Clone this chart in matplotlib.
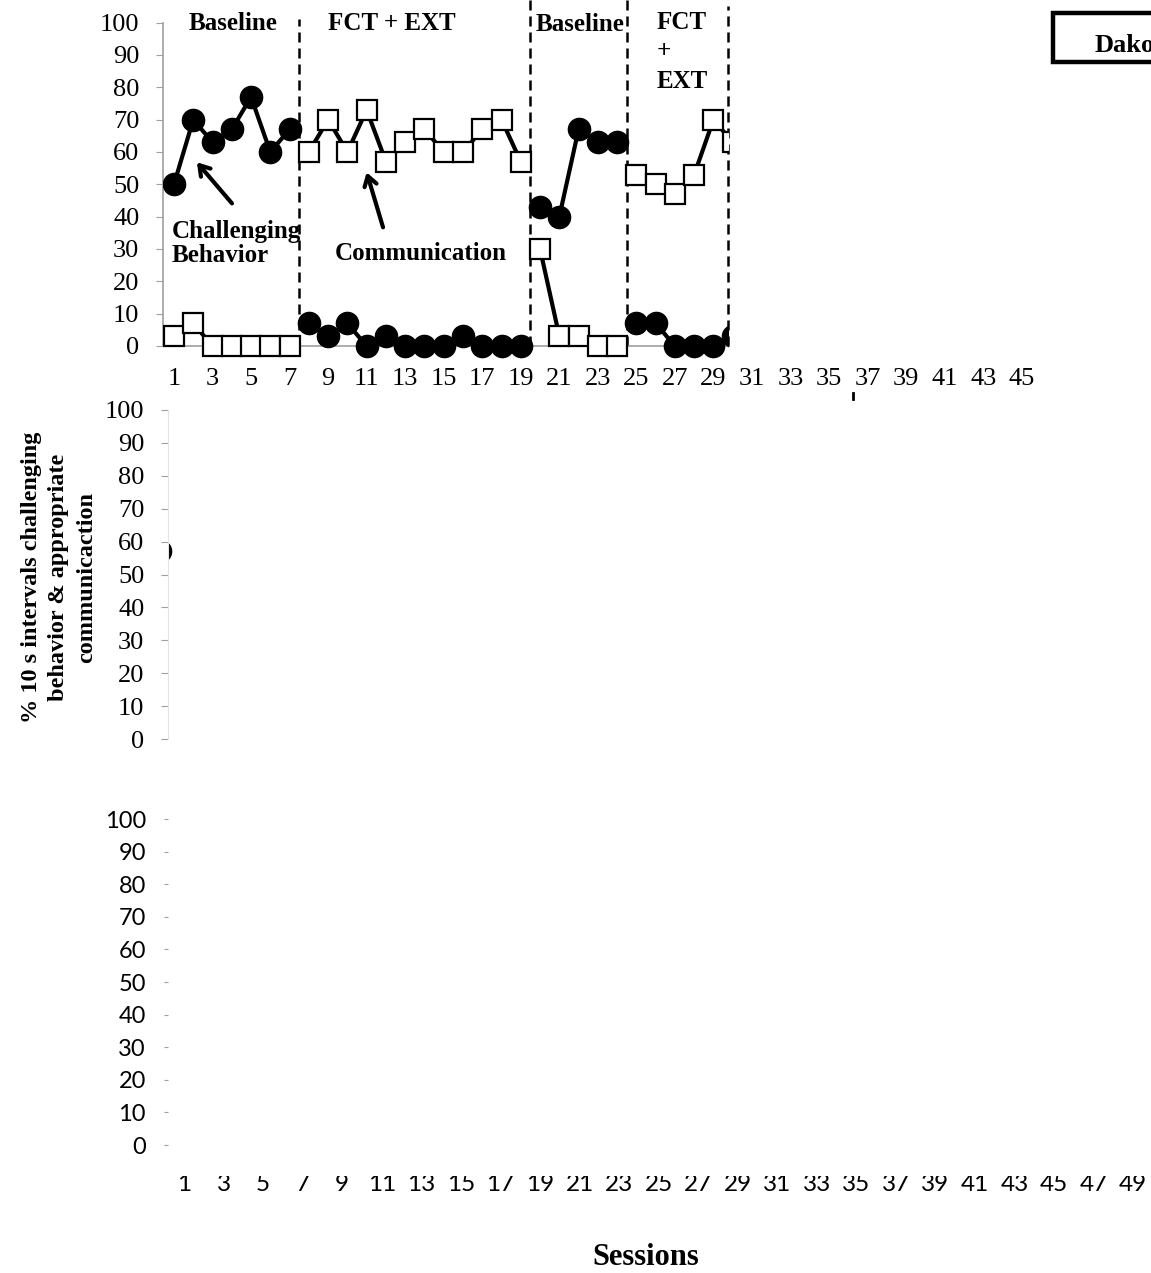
import numpy as np
import matplotlib
matplotlib.use("Agg")
import matplotlib.pyplot as plt
from matplotlib.patches import Rectangle
from matplotlib.lines import Line2D

W, H = 1151, 1273
SERIF = "Liberation Serif"

# data: sessions, phase of each session, and the two measures
sessions = np.arange(1, 31)
phase = [0] * 7 + [1] * 12 + [2] * 5 + [3] * 6
challenging = [50, 70, 63, 67, 77, 60, 67,
               7, 3, 7, 0, 3, 0, 0, 0, 3, 0, 0, 0,
               43, 40, 67, 63, 63,
               7, 7, 0, 0, 0, 3]
communication = [3, 7, 0, 0, 0, 0, 0,
                 60, 70, 60, 73, 57, 63, 67, 60, 60, 67, 70, 57,
                 30, 3, 3, 0, 0,
                 53, 50, 47, 53, 70, 63]
phase_lines = [7.5, 19.5, 24.5, 29.75]
phase_names = ["Baseline", "FCT + EXT", "Baseline", "FCT\n+\nEXT"]
top_xticks = list(range(1, 46, 2))
bottom_xticks = list(range(1, 50, 2))
yticks = list(range(0, 101, 10))

# second panel: only a sliver of one point is left at the axis edge
mid_x = [0.08]
mid_y = [57]


def px_axes(fig, left, top, right, bottom):
    return fig.add_axes([left / W, 1 - bottom / H, (right - left) / W, (bottom - top) / H])


fig = plt.figure(figsize=(W / 100, H / 100), dpi=100)

# ---------------- top panel ----------------
ax = px_axes(fig, 163, 0, 1041, 346)
x_left, x_clip = 0.43, 29.75
ax.set_xlim(x_left, 46)
ax.set_ylim(0, 107)
for s in ["top", "right"]:
    ax.spines[s].set_visible(False)
ax.spines["left"].set_bounds(0, 100)
ax.spines["bottom"].set_bounds(x_left, x_clip)
ax.spines["left"].set_color("#a0a0a0")
ax.spines["bottom"].set_color("#a0a0a0")
ax.spines["left"].set_linewidth(1.2)
ax.spines["bottom"].set_linewidth(1.2)
ax.set_yticks(yticks)
ax.set_xticks(top_xticks)
ax.tick_params(axis="y", direction="out", length=5, color="#a0a0a0", pad=12,
               labelsize=19)
ax.tick_params(axis="x", length=0, pad=16, labelsize=19)
for lab in ax.get_xticklabels() + ax.get_yticklabels():
    lab.set_fontfamily(SERIF)

clip = Rectangle((x_left, -20), x_clip - x_left, 140, transform=ax.transData)

ph = np.array(phase)
cb = np.array(challenging)
cm = np.array(communication)
for p in np.unique(ph):
    m = ph == p
    l1, = ax.plot(sessions[m], cb[m], color="black", lw=3.0, marker="o", ms=16,
                  mfc="black", mec="black", zorder=3)
    l2, = ax.plot(sessions[m], cm[m], color="black", lw=3.0, marker="s", ms=14,
                  mfc="white", mec="black", mew=1.6, zorder=4)
    for ln in (l1, l2):
        ln.set_clip_path(clip)

tops = [101, 107, 107, 105]
for xv, t in zip(phase_lines, tops):
    ax.plot([xv, xv], [0, t], color="black", lw=1.8, ls=(0, (4, 2.4)),
            clip_on=False, zorder=2)

bold = dict(fontfamily=SERIF, fontweight="bold", fontsize=18)
ax.text(4.06, 97.8, phase_names[0], ha="center", va="baseline", **bold)
ax.text(12.3, 97.8, phase_names[1], ha="center", va="baseline", **bold)
ax.text(22.1, 97.5, phase_names[2], ha="center", va="baseline", **bold)
ax.text(26.07, 103.6, phase_names[3], ha="left", va="top", linespacing=1.35, **bold)
ax.text(0.9, 38.9, "Challenging\nBehavior", ha="left", va="top", linespacing=1.05, **bold)
ax.text(9.35, 32.2, "Communication", ha="left", va="top", **bold)

arrow = dict(arrowstyle="->,head_length=0.7,head_width=0.45", color="black", lw=3,
             shrinkA=0, shrinkB=0)
ax.annotate("", xy=(2.19, 56.8), xytext=(4.01, 44.1), arrowprops=arrow)
ax.annotate("", xy=(11.0, 53.7), xytext=(11.85, 36.7), arrowprops=arrow)

# ---------------- middle panel ----------------
ax2 = px_axes(fig, 168, 410, 1151, 739)
ax2.set_xlim(0.5, 51.5)
ax2.set_ylim(0, 100)
for s in ["top", "right", "bottom"]:
    ax2.spines[s].set_visible(False)
ax2.spines["left"].set_color("#e3e3e3")
ax2.set_xticks([])
ax2.set_yticks(yticks)
ax2.tick_params(axis="y", direction="out", length=5, color="#a0a0a0", pad=12,
                labelsize=19)
for lab in ax2.get_yticklabels():
    lab.set_fontfamily(SERIF)
ax2.plot(mid_x, mid_y, "o", color="black", ms=16)
ax2.text(-0.111, 0.49, "% 10 s intervals challenging\nbehavior & appropriate\ncommunicaction",
         transform=ax2.transAxes, rotation=90, ha="center", va="center",
         fontfamily=SERIF, fontweight="bold", fontsize=17.5, linespacing=1.4)

# ---------------- bottom panel ----------------
ax3 = px_axes(fig, 168, 819, 1149, 1145)
ax3.set_xlim(0.19, 49.8)
ax3.set_ylim(0, 100)
for s in ["top", "right", "bottom", "left"]:
    ax3.spines[s].set_visible(False)
ax3.set_yticks(yticks)
ax3.set_xticks(bottom_xticks)
ax3.tick_params(axis="y", direction="out", length=3, color="#a0a0a0", pad=13,
                labelsize=17)
ax3.tick_params(axis="x", length=0, pad=21, labelsize=17.5)
for lab in ax3.get_xticklabels() + ax3.get_yticklabels():
    lab.set_fontfamily("Lato")
fig.text(646 / W, 1 - 1265 / H, "Sessions", fontfamily=SERIF, fontweight="bold",
         fontsize=22, ha="center", va="baseline")

# tops of the bottom tick labels are hidden under a thin strip
fig.add_artist(Rectangle((160 / W, 1 - 1176 / H), (W - 160) / W, 8 / H,
                         transform=fig.transFigure, facecolor="white",
                         edgecolor="none", zorder=10))

# stray dash and the cut-off name box at the top right
fig.add_artist(Line2D([853 / W, 853 / W], [1 - 393 / H, 1 - 399 / H],
                      transform=fig.transFigure, color="black", lw=2))
fig.add_artist(Rectangle((1053 / W, 1 - 62 / H), 120 / W, 49 / H,
                         transform=fig.transFigure, facecolor="white",
                         edgecolor="black", lw=3.2, clip_on=False))
fig.text(1095 / W, 1 - 52 / H, "Dakota", fontfamily=SERIF, fontweight="bold",
         fontsize=19, va="baseline", ha="left")

fig.savefig("out.png", dpi=100)
